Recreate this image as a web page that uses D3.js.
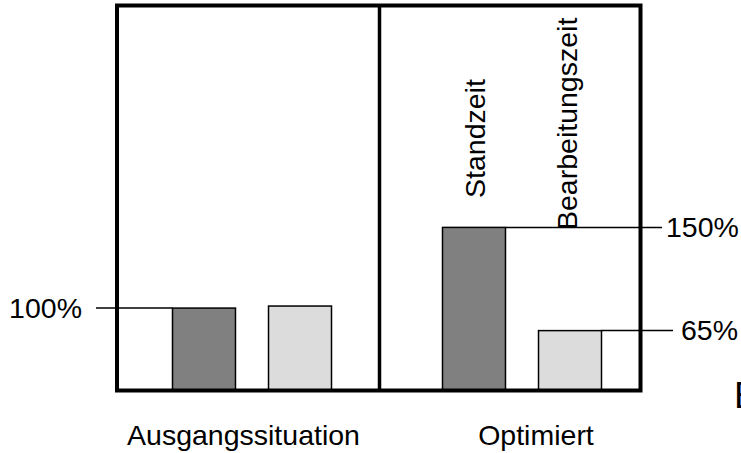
<!DOCTYPE html>
<html>
<head>
<meta charset="utf-8">
<script src="https://cdn.jsdelivr.net/npm/d3@7"></script>
<style>
  html, body { margin: 0; padding: 0; background: #fff; }
  svg { display: block; }
  text { font-family: "Liberation Sans", Arial, sans-serif; fill: #000; }
</style>
</head>
<body>
<svg id="chart" width="741" height="453"></svg>
<script>
// ---- data ----
const groups = ["Ausgangssituation", "Optimiert"];
const series = ["Standzeit", "Bearbeitungszeit"];
// drawn bar heights (relative units, as pictured; the figure is not drawn to scale)
const heightsStandzeit = [100, 198.5];
const heightsBearbeitung = [102.5, 72.5];
const valueLabels = ["100%", "150%", "65%"];

const W = 741, H = 453;
const FS = 28.5;
const svg = d3.select("#chart");

// frame layout
const frame = { left: 117, right: 640.5, top: 5.5, bottom: 390.5, divider: 379.5 };

const x0 = d3.scaleBand().domain(groups).range([117, 657]).padding(0);
const x1 = d3.scaleBand().domain(series).range([0, x0.bandwidth()])
  .paddingInner(0.344).paddingOuter(0.578);
const y = d3.scaleLinear().domain([0, 470]).range([390, 5]);

const fills = { "Standzeit": "#808080", "Bearbeitungszeit": "#dcdcdc" };

const bars = [];
groups.forEach((g, i) => {
  bars.push({ group: g, series: "Standzeit", value: heightsStandzeit[i] });
  bars.push({ group: g, series: "Bearbeitungszeit", value: heightsBearbeitung[i] });
});

// bars
svg.append("g").selectAll("rect").data(bars).join("rect")
  .attr("x", d => x0(d.group) + x1(d.series))
  .attr("y", d => y(d.value))
  .attr("width", x1.bandwidth())
  .attr("height", d => y(0) - y(d.value))
  .attr("fill", d => fills[d.series])
  .attr("stroke", "#000")
  .attr("stroke-width", 1.5);

// leader lines and value labels
const ann = [
  { bar: bars[0], label: valueLabels[0], side: "left", end: 96, tx: 82 },
  { bar: bars[2], label: valueLabels[1], side: "right", end: 662, tx: 666 },
  { bar: bars[3], label: valueLabels[2], side: "right", end: 673, tx: 681 }
];
const annG = svg.append("g");
ann.forEach(a => {
  const bx = x0(a.bar.group) + x1(a.bar.series);
  const yy = y(a.bar.value);
  const from = a.side === "left" ? bx : bx + x1.bandwidth();
  annG.append("line")
    .attr("x1", from).attr("x2", a.end)
    .attr("y1", yy).attr("y2", yy)
    .attr("stroke", "#000").attr("stroke-width", 1.5);
  annG.append("text")
    .attr("x", a.tx).attr("y", yy + 9.5)
    .attr("text-anchor", a.side === "left" ? "end" : "start")
    .attr("font-size", FS)
    .text(a.label);
});

// frame
const fr = svg.append("g").attr("fill", "none").attr("stroke", "#000");
fr.append("rect")
  .attr("x", frame.left).attr("y", frame.top)
  .attr("width", frame.right - frame.left).attr("height", frame.bottom - frame.top)
  .attr("stroke-width", 4);
fr.append("line")
  .attr("x1", frame.divider).attr("x2", frame.divider)
  .attr("y1", frame.top).attr("y2", frame.bottom)
  .attr("stroke-width", 3.5);

// rotated series labels (right panel)
const seriesLabelPos = [
  { s: "Standzeit", dx: 11, y0: 198 },
  { s: "Bearbeitungszeit", dx: 7, y0: 230 }
];
seriesLabelPos.forEach(p => {
  const cx = x0(groups[1]) + x1(p.s) + x1.bandwidth() / 2 + p.dx;
  svg.append("text")
    .attr("transform", `translate(${cx},${p.y0}) rotate(-90)`)
    .attr("font-size", FS)
    .text(p.s);
});

// group labels
const groupLabelDx = [-8.5, 14];
svg.append("g").selectAll("text").data(groups).join("text")
  .attr("x", (d, i) => x0(d) + x0.bandwidth() / 2 + groupLabelDx[i])
  .attr("y", 445)
  .attr("text-anchor", "middle")
  .attr("font-size", FS)
  .text(d => d);

// cut-off letter at the right edge (as in the reference)
svg.append("text").attr("x", 734).attr("y", 408).attr("font-size", 37).text("B");
</script>
</body>
</html>
